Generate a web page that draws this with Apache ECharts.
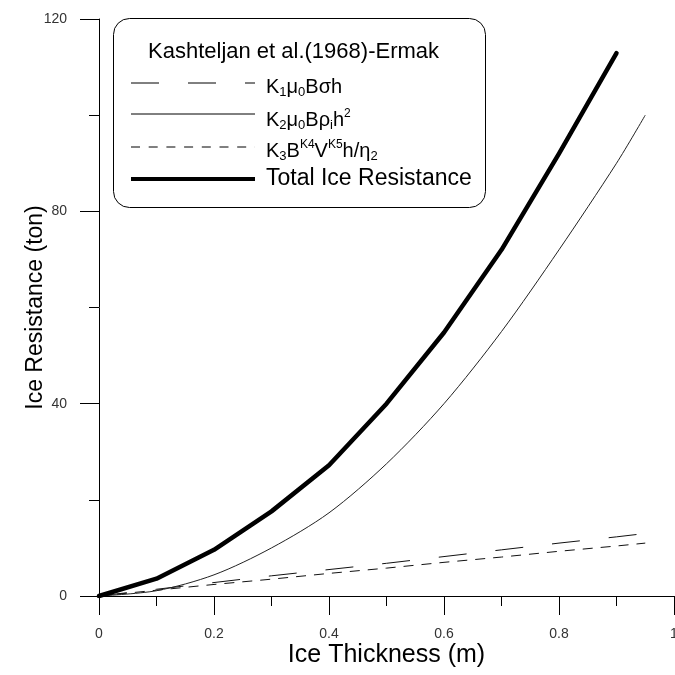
<!DOCTYPE html>
<html>
<head>
<meta charset="utf-8">
<script src="https://cdn.jsdelivr.net/npm/echarts@6/dist/echarts.min.js"></script>
<style>html,body{margin:0;padding:0;background:#fff;}#c{width:675px;height:675px;}</style>
</head>
<body>
<div id="c"></div>
<script>
// Data
var thickness = [0, 0.1, 0.2, 0.3, 0.4, 0.5, 0.6, 0.7, 0.8, 0.9, 0.95];
var k1Values = [0, 1.4, 2.8, 4.2, 5.5, 6.8, 8.2, 9.6, 11.0, 12.3, 13.0];
var k2Values = [0, 1.1, 4.4, 10.0, 17.3, 27.5, 40.0, 55.0, 72.0, 90.0, 100.0];
var k3Values = [0, 1.2, 2.4, 3.5, 4.7, 5.8, 7.0, 8.1, 9.3, 10.4, 11.0];
var totalThickness = [0, 0.1, 0.2, 0.3, 0.4, 0.5, 0.6, 0.7, 0.8, 0.9];
var totalValues = [0, 3.6, 9.6, 17.6, 27.2, 40.0, 54.8, 72.0, 92.0, 112.9];
var yTicks = [0, 40, 80, 120];
var xTicks = [0, 0.2, 0.4, 0.6, 0.8, 1];

function pairs(xs, ys) { return xs.map(function (x, i) { return [x, ys[i]]; }); }

var FONT = '"Liberation Sans", Arial, sans-serif';
var chart = echarts.init(document.getElementById('c'), null, {renderer: 'canvas'});

var richBase = {
  m: {fontSize: 20, lineHeight: 24, fontFamily: FONT, color: '#000', verticalAlign: 'middle'},
  s: {fontSize: 13, lineHeight: 13, fontFamily: FONT, color: '#000', verticalAlign: 'bottom'},
  p: {fontSize: 12, lineHeight: 12, fontFamily: FONT, color: '#000', verticalAlign: 'top'}
};

function legendLine(y, dash, width) {
  return {type: 'line', z: 101, shape: {x1: 131, y1: y, x2: 255, y2: y},
    style: {stroke: '#000', lineWidth: width, lineDash: dash}};
}
function legendText(y, txt) {
  return {type: 'text', z: 101, x: 266, y: y,
    style: {text: txt, rich: richBase, textVerticalAlign: 'middle', verticalAlign: 'middle', fill: '#000'}};
}

var option = {
  animation: false,
  backgroundColor: '#fff',
  grid: {left: 99, right: 1, top: 19, bottom: 79, containLabel: false, outerBoundsMode: 'none'},
  xAxis: {
    type: 'value', min: 0, max: 1, interval: 0.2,
    name: 'Ice Thickness (m)', nameLocation: 'middle', nameGap: 47, nameMoveOverlap: false,
    nameTextStyle: {fontSize: 25, fontFamily: FONT, color: '#000'},
    axisLine: {show: true, onZero: false, lineStyle: {color: '#000', width: 1}},
    axisTick: {show: true, inside: false, length: 19, lineStyle: {color: '#000'}},
    minorTick: {show: true, splitNumber: 2, length: 10, lineStyle: {color: '#000'}},
    axisLabel: {margin: 31, fontSize: 14, fontFamily: FONT, color: '#333', showMaxLabel: true, hideOverlap: false,
      formatter: function (v) { return String(Math.round(v * 10) / 10); }},
    splitLine: {show: false}
  },
  yAxis: {
    type: 'value', min: 0, max: 120, interval: 40,
    name: 'Ice Resistance (ton)', nameLocation: 'middle', nameGap: 52, nameRotate: 90, nameMoveOverlap: false,
    nameTextStyle: {fontSize: 23, fontFamily: FONT, color: '#000'},
    axisLine: {show: true, lineStyle: {color: '#000', width: 1}},
    axisTick: {show: true, inside: false, length: 19, lineStyle: {color: '#000'}},
    minorTick: {show: true, splitNumber: 2, length: 10, lineStyle: {color: '#000'}},
    axisLabel: {margin: 32, fontSize: 14, fontFamily: FONT, color: '#333'},
    splitLine: {show: false}
  },
  series: [
    {name: 'K1', type: 'line', data: pairs(thickness, k1Values), showSymbol: false, smooth: false,
      lineStyle: {color: '#111', width: 1, type: [28, 29]}},
    {name: 'K3', type: 'line', data: pairs(thickness, k3Values), showSymbol: false, smooth: false,
      lineStyle: {color: '#111', width: 1, type: [10, 8]}},
    {name: 'K2', type: 'line', data: pairs(thickness, k2Values), showSymbol: false, smooth: 0.3,
      lineStyle: {color: '#222', width: 1}},
    {name: 'Total', type: 'line', data: pairs(totalThickness, totalValues), showSymbol: false, smooth: false,
      lineStyle: {color: '#000', width: 4.5, cap: 'round', join: 'round'}}
  ],
  graphic: [
    {type: 'rect', shape: {x: 113.5, y: 18.5, width: 372, height: 189, r: 16},
      style: {fill: '#fff', stroke: '#000', lineWidth: 1}, z: 100},
    {type: 'text', x: 148, y: 52, z: 101,
      style: {text: 'Kashteljan et al.(1968)-Ermak', font: '22px ' + FONT, fill: '#000',
        textAlign: 'left', textVerticalAlign: 'middle', align: 'left', verticalAlign: 'middle'}},
    legendLine(83, [28, 29], 1),
    legendText(87, '{m|K}{s|1}{m|μ}{s|0}{m|Bσh}'),
    legendLine(114, null, 1),
    legendText(120, '{m|K}{s|2}{m|μ}{s|0}{m|Bρ}{s|i}{m|h}{p|2}'),
    legendLine(147, [9, 8.7], 1),
    legendText(151, '{m|K}{s|3}{m|B}{p|K4}{m|V}{p|K5}{m|h/η}{s|2}'),
    legendLine(179, null, 4),
    {type: 'text', x: 266, y: 179, z: 101,
      style: {text: 'Total Ice Resistance', font: '23px ' + FONT, fill: '#000',
        textVerticalAlign: 'middle', verticalAlign: 'middle'}}
  ]
};
chart.setOption(option);
</script>
</body>
</html>
